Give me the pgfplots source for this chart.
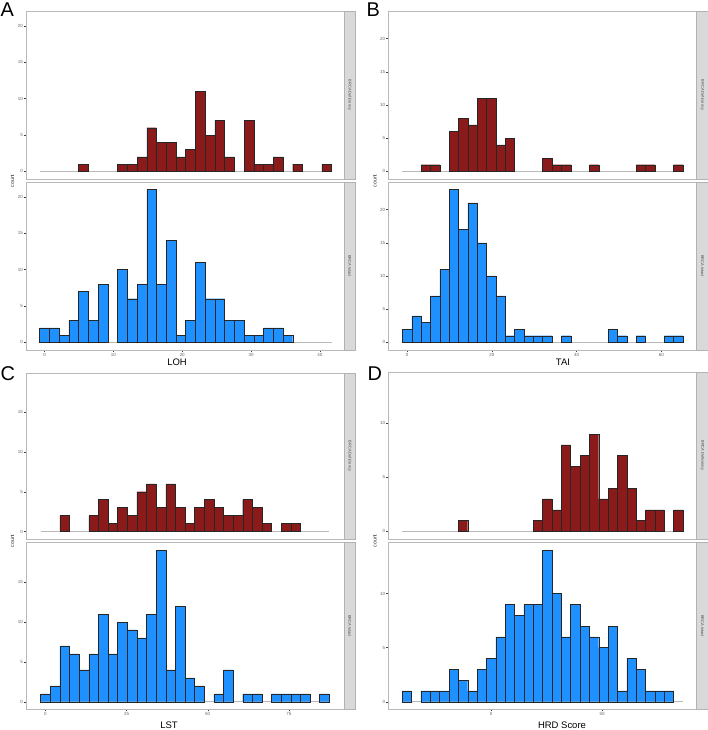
\documentclass[border=0pt]{standalone}
\usepackage{pgfplots}
\pgfplotsset{compat=1.18}
\usepackage{pgfplotstable}
\usepackage{fontspec}
\setmainfont{Liberation Sans}

\definecolor{defred}{RGB}{139,26,26}
\definecolor{intblue}{RGB}{30,144,255}
\definecolor{stripgray}{RGB}{217,217,217}

% bin centre, count BRCA Deficiency, count BRCA Intact (30 bins each)
\pgfplotstableread{
x def int
0 0 2
1.414 0 2
2.828 0 1
4.241 0 3
5.655 1 7
7.069 0 3
8.483 0 8
9.897 0 0
11.310 1 10
12.724 1 6
14.138 2 8
15.552 6 21
16.966 4 8
18.379 4 14
19.793 2 1
21.207 3 3
22.621 11 11
24.034 5 6
25.448 7 6
26.862 2 3
28.276 0 3
29.690 7 1
31.103 1 1
32.517 1 2
33.931 2 2
35.345 0 1
36.759 1 0
38.172 0 0
39.586 0 0
41 1 0
}\loh

\pgfplotstableread{
x def int
0 0 2
2.207 0 4
4.414 1 3
6.621 1 7
8.828 0 11
11.034 6 23
13.241 8 17
15.448 7 21
17.655 11 15
19.862 11 10
22.069 4 7
24.276 5 1
26.483 0 2
28.690 0 1
30.897 0 1
33.103 2 1
35.310 1 0
37.517 1 1
39.724 0 0
41.931 0 0
44.138 1 0
46.345 0 0
48.552 0 2
50.759 0 1
52.966 0 0
55.172 1 1
57.379 1 0
59.586 0 0
61.793 0 1
64 1 1
}\tai

\pgfplotstableread{
x def int
0 0 1
2.966 0 2
5.931 2 7
8.897 0 6
11.862 0 4
14.828 2 6
17.793 4 11
20.759 1 6
23.724 3 10
26.690 2 9
29.655 5 8
32.621 6 11
35.586 3 19
38.552 6 4
41.517 3 12
44.483 1 3
47.448 3 2
50.414 4 0
53.379 3 1
56.345 2 4
59.310 2 0
62.276 4 1
65.241 3 1
68.207 1 0
71.172 0 1
74.138 1 1
77.103 1 1
80.069 0 1
83.034 0 0
86 0 1
}\lst

\pgfplotstableread{
x def int
-38 0 1
-33.78 0 0
-29.56 0 1
-25.34 0 1
-21.12 0 1
-16.90 0 3
-12.68 1 2
-8.46 0 1
-4.24 0 3
-0.02 0 4
4.20 0 6
8.42 0 9
12.64 0 8
16.86 0 9
21.08 1 9
25.30 3 14
29.52 2 10
33.74 8 6
37.96 6 9
42.18 7 7
46.40 9 6
50.62 3 5
54.84 4 7
59.06 7 1
63.28 4 4
67.50 1 3
71.72 2 1
75.94 2 1
80.16 0 1
84.38 2 0
}\hrd

\pgfplotsset{
  facet/.style={
    scale only axis, clip=false,
    axis line style={draw=gray!55, line width=0.8bp},
    tick pos=left, tick align=outside,
    major tick length=2bp,
    every tick/.style={draw=gray!50!black, line width=0.4bp},
    tick label style={font=\fontsize{4.5}{5}\selectfont, text=black!60},
    /pgf/number format/assume math mode=true,
    yticklabel style={inner sep=1bp},
    xticklabel style={inner sep=1.2bp},
  },
  topfacet/.style={facet, xtick=\empty},
  hbar/.style={ybar, bar shift=0pt, bar width=#1, draw=black!85,
    line width=0.45bp, restrict y to domain=0.5:1000},
  base/.style={draw=gray!55, line width=1.3bp, forget plot},
}

\newcommand\strip[1]{%
  \draw[draw=gray!60, fill=stripgray, line width=0.6bp]
    (rel axis cs:1,0) rectangle ([xshift=11.5bp]rel axis cs:1,1);
  \node[rotate=-90, font=\fontsize{4}{5}\selectfont, text=black!70]
    at ([xshift=5.75bp]rel axis cs:1,0.5) {#1};
}

\begin{document}
\begin{tikzpicture}
\useasboundingbox (0,0) rectangle (708bp,-730bp);

% ---------- A: LOH ----------
\begin{axis}[topfacet, at={(26bp,-179bp)}, anchor=south west,
  width=318bp, height=168bp, xmin=-2.7, xmax=43.5, ymin=-1.05, ymax=22.05,
  ytick={0,5,10,15,20}]
  \addplot[base] coordinates {(-0.707,0) (41.707,0)};
  \addplot[hbar=1.41379, fill=defred] table[x=x, y=def] {\loh};
  \strip{BRCA Deficiency}
\end{axis}
\begin{axis}[facet, at={(26bp,-350bp)}, anchor=south west,
  width=318bp, height=168bp, xmin=-2.7, xmax=43.5, ymin=-1.05, ymax=22.05,
  ytick={0,5,10,15,20}, xtick={0,10,20,30,40}]
  \addplot[base] coordinates {(-0.707,0) (41.707,0)};
  \addplot[hbar=1.41379, fill=intblue] table[x=x, y=int] {\loh};
  \strip{BRCA Intact}
\end{axis}

% ---------- B: TAI ----------
\begin{axis}[topfacet, at={(388.3bp,-179bp)}, anchor=south west,
  width=308.4bp, height=168bp, xmin=-4.45, xmax=68.35, ymin=-1.15, ymax=24.15,
  ytick={0,5,10,15,20}]
  \addplot[base] coordinates {(-1.103,0) (65.103,0)};
  \addplot[hbar=2.2069, fill=defred] table[x=x, y=def] {\tai};
  \strip{BRCA Deficiency}
\end{axis}
\begin{axis}[facet, at={(388.3bp,-350bp)}, anchor=south west,
  width=308.4bp, height=168bp, xmin=-4.45, xmax=68.35, ymin=-1.15, ymax=24.15,
  ytick={0,5,10,15,20}, xtick={0,20,40,60}]
  \addplot[base] coordinates {(-1.103,0) (65.103,0)};
  \addplot[hbar=2.2069, fill=intblue] table[x=x, y=int] {\tai};
  \strip{BRCA Intact}
\end{axis}

% ---------- C: LST ----------
\begin{axis}[topfacet, at={(26bp,-539bp)}, anchor=south west,
  width=318bp, height=166bp, xmin=-6.0, xmax=92.0, ymin=-0.95, ymax=19.95,
  ytick={0,5,10,15}]
  \addplot[base] coordinates {(-1.483,0) (87.483,0)};
  \addplot[hbar=2.9655, fill=defred] table[x=x, y=def] {\lst};
  \strip{BRCA Deficiency}
\end{axis}
\begin{axis}[facet, at={(26bp,-709.3bp)}, anchor=south west,
  width=318bp, height=166.6bp, xmin=-6.0, xmax=92.0, ymin=-0.95, ymax=19.95,
  ytick={0,5,10,15}, xtick={0,25,50,75}]
  \addplot[base] coordinates {(-1.483,0) (87.483,0)};
  \addplot[hbar=2.9655, fill=intblue] table[x=x, y=int] {\lst};
  \strip{BRCA Intact}
\end{axis}

% ---------- D: HRD Score ----------
\begin{axis}[topfacet, at={(388.3bp,-539bp)}, anchor=south west,
  width=308.4bp, height=166.7bp, xmin=-46.4, xmax=92.7, ymin=-0.7, ymax=14.7,
  ytick={0,5,10}]
  \addplot[base] coordinates {(-40.11,0) (86.49,0)};
  \addplot[hbar=4.22, fill=defred] table[x=x, y=def] {\hrd};
  \strip{BRCA Deficiency}
\end{axis}
\begin{axis}[facet, at={(388.3bp,-709.3bp)}, anchor=south west,
  width=308.4bp, height=166.6bp, xmin=-46.4, xmax=92.7, ymin=-0.7, ymax=14.7,
  ytick={0,5,10}, xtick={0,50}]
  \addplot[base] coordinates {(-40.11,0) (86.49,0)};
  \addplot[hbar=4.22, fill=intblue] table[x=x, y=int] {\hrd};
  \strip{BRCA Intact}
\end{axis}

% ---------- labels ----------
\begin{scope}[font=\fontsize{5.3}{6}\selectfont, text=black!80]
  \node[rotate=90] at (12.5bp,-181bp) {count};
  \node[rotate=90] at (375bp,-181bp) {count};
  \node[rotate=90] at (12.5bp,-541bp) {count};
  \node[rotate=90] at (375bp,-541bp) {count};
\end{scope}
\begin{scope}[font=\fontsize{9.5}{11}\selectfont]
  \node at (177bp,-362.7bp) {LOH};
  \node at (563bp,-362.2bp) {TAI};
  \node at (169bp,-725bp) {LST};
  \node at (562bp,-725bp) {HRD Score};
\end{scope}
\begin{scope}[font=\fontsize{20}{22}\selectfont]
  \node[anchor=base west, inner sep=0pt] at (0.5bp,-16bp) {A};
  \node[anchor=base west, inner sep=0pt] at (366.5bp,-16bp) {B};
  \node[anchor=base west, inner sep=0pt] at (0.5bp,-380bp) {C};
  \node[anchor=base west, inner sep=0pt] at (367.5bp,-380bp) {D};
\end{scope}
\end{tikzpicture}
\end{document}
